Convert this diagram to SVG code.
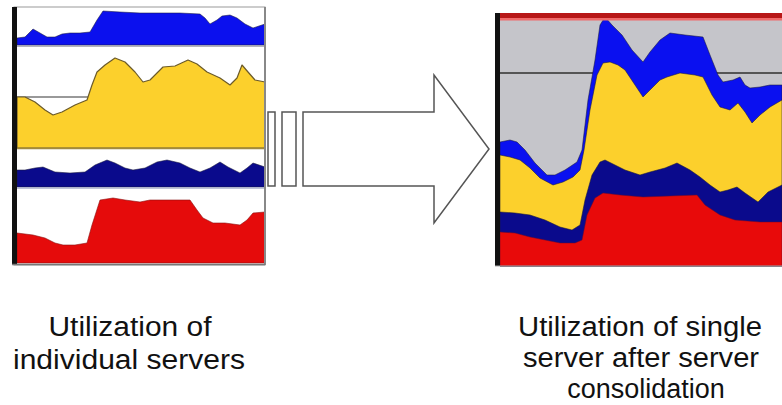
<svg xmlns="http://www.w3.org/2000/svg" width="782" height="405" viewBox="0 0 782 405">
<style>
.lbl{font-family:"Liberation Sans",Arial,sans-serif;font-size:27px;fill:#111;text-anchor:middle}
.edge{stroke:#1a1a3a;stroke-width:1;stroke-opacity:0.55;stroke-linejoin:round}
.box{fill:#fff;stroke:#555;stroke-width:1.5}
</style>
<rect width="782" height="405" fill="#fff"/>
<g id="individual-servers">
  <rect x="14" y="7" width="251" height="258" fill="#fff" stroke="#999" stroke-width="1"/>
  <polygon fill="#0b10ee" class="edge" points="17,38 25,37 33,29 40,33 47,37 55,37 62,34 70,33 80,33 90,32 97,20 103,11 120,12 140,13 160,13 180,13 200,14 205,18 210,24 217,20 222,16 230,15 237,18 245,24 253,28 259,26 265,24 265,45 17,45"/>
  <line x1="17" y1="46" x2="265" y2="46" stroke="#9a9aa8" stroke-width="1.5"/>
  <line x1="17" y1="97" x2="88" y2="97" stroke="#777" stroke-width="1.5"/>
  <polygon fill="#fcd02c" stroke="#6b5a2a" stroke-width="1.2" stroke-linejoin="round" points="17,97 25,97 35,102 45,110 53,115 62,112 75,105 87,100 92,85 97,72 105,65 115,58 125,62 135,72 143,82 150,80 163,67 175,66 188,60 197,64 207,72 220,78 230,85 237,78 242,65 248,72 255,80 265,82 265,148 17,148"/>
  <line x1="17" y1="148.5" x2="265" y2="148.5" stroke="#a08a40" stroke-width="1.5"/>
  <polygon fill="#0a0a8c" class="edge" points="17,170 25,170 35,168 43,167 55,172 70,173 85,172 95,165 107,160 115,163 125,168 133,170 145,168 157,162 167,160 180,163 190,168 200,172 210,168 220,162 228,167 240,173 247,168 253,163 265,167 265,187 17,187"/>
  <line x1="17" y1="188" x2="265" y2="188" stroke="#aab0cc" stroke-width="1.5"/>
  <polygon fill="#e50b0b" stroke="#8a1010" stroke-width="1" stroke-opacity="0.6" stroke-linejoin="round" points="17,233 33,235 45,238 55,243 63,245 75,245 87,243 92,225 100,200 113,198 125,200 140,202 150,200 170,200 190,200 197,210 203,218 213,223 225,223 240,225 247,220 253,213 265,212 265,263 17,263"/>
  <rect x="12" y="7" width="5" height="258" fill="#111"/>
  <line x1="265" y1="7" x2="265" y2="265" stroke="#888" stroke-width="2"/>
  <line x1="12" y1="264.5" x2="265" y2="264.5" stroke="#777" stroke-width="1.5"/>
</g>
<g id="connectors">
  <rect class="box" x="268" y="112" width="7" height="74"/>
  <rect class="box" x="282" y="112" width="14" height="74"/>
  <polygon class="box" points="303,112 434,112 434,75 489,149 434,223 434,186 303,186"/>
</g>
<g id="consolidated-server">
  <rect x="497" y="20" width="285" height="246" fill="#c5c5ca"/>
  <line x1="497" y1="73" x2="782" y2="73" stroke="#555" stroke-width="2"/>
  <polygon fill="#0a10f0" class="edge" points="500,142 510,140 517,142 525,150 535,163 547,175 555,175 565,170 577,162 582,150 588,100 595,60 600,25 605,17 612,25 622,35 632,50 643,62 650,52 660,40 670,33 685,35 703,37 710,55 718,75 723,82 733,80 740,77 745,85 750,88 760,87 770,85 782,85 782,266 500,266"/>
  <polygon fill="#fcd02c" class="edge" points="500,155 510,157 520,160 530,168 540,178 553,185 563,182 573,177 580,170 584,150 590,110 597,75 603,63 610,62 618,65 625,70 635,85 643,97 650,90 660,80 667,77 680,73 695,75 703,77 712,95 720,107 730,110 738,103 745,112 752,123 760,115 770,107 782,100 782,266 500,266"/>
  <polygon fill="#0a0a8c" class="edge" points="500,212 515,213 530,215 545,220 560,227 572,230 580,225 585,200 592,175 600,162 605,160 615,165 625,170 640,175 650,172 665,168 677,163 690,170 700,177 710,185 720,192 728,190 737,187 745,193 758,202 768,192 782,185 782,266 500,266"/>
  <polygon fill="#e80a0a" stroke="#6a0a2a" stroke-width="1" stroke-opacity="0.5" points="500,232 515,233 530,237 545,240 560,243 575,243 582,240 587,215 595,198 603,193 620,195 643,197 670,196 697,195 705,205 720,215 735,220 760,222 782,222 782,266 500,266"/>
  <rect x="495" y="13" width="287" height="5" fill="#b81818"/>
  <rect x="495" y="18" width="287" height="2.5" fill="#f06a6a"/>
  <rect x="495" y="13" width="5" height="253" fill="#111"/>
  <line x1="495" y1="266" x2="782" y2="266" stroke="#aaa" stroke-width="1"/>
</g>
<g id="label-left">
  <text class="lbl" x="130" y="336" textLength="163" lengthAdjust="spacingAndGlyphs">Utilization of</text>
  <text class="lbl" x="129" y="369" textLength="232" lengthAdjust="spacingAndGlyphs">individual servers</text>
</g>
<g id="label-right">
  <text class="lbl" x="640" y="336" textLength="244" lengthAdjust="spacingAndGlyphs">Utilization of single</text>
  <text class="lbl" x="641" y="367" textLength="236" lengthAdjust="spacingAndGlyphs">server after server</text>
  <text class="lbl" x="646" y="398">consolidation</text>
</g>
</svg>
